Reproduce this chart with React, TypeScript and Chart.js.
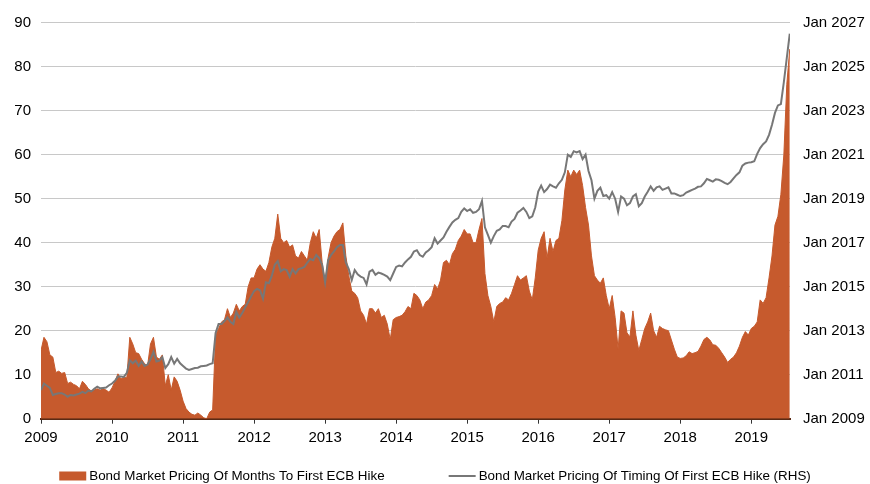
import React, { useEffect, useRef } from "react";
import { Chart, registerables } from "chart.js";

Chart.register(...registerables);

// Semi-monthly observations starting Jan 2009
const START_YEAR = 2009;
const OBS_PER_YEAR = 24;

const SERIES_AREA_LABEL = "Bond Market Pricing Of Months To First ECB Hike";
const SERIES_LINE_LABEL = "Bond Market Pricing Of Timing Of First ECB Hike (RHS)";

// Months to first ECB hike (LHS)
const monthsToHike: number[] = [
  15.5, 18.5, 17.5, 14.5, 14, 10.5, 10.8, 10.3, 10.5, 8, 8.3, 7.8, 7.5, 6.8, 8.5, 7.8, 6.8, 6.3, 6.5, 6.8, 6.5, 6.8, 6.5, 6.0,
  7, 8.5, 10.2, 9, 9.5, 9.3, 18.5, 17, 15, 14.8, 13.5, 12.5, 12, 17, 18.5, 14, 13.5, 14.5, 7.5, 10, 6.5, 9.5, 8.5, 6.5,
  4, 2.3, 1.5, 1, 0.8, 1.3, 0.8, 0.2, 0, 1.5, 2, 19, 20.5, 22, 22.5, 25, 23, 24, 26, 24.5, 25.5, 26, 30, 32,
  32, 34, 35, 34, 33.5, 35.5, 39, 41, 46.5, 41, 40, 40.5, 39, 39.5, 37, 36.5, 38, 37, 36, 40, 42.5, 41, 43, 35.5,
  30.8, 36.5, 40, 41.5, 42.5, 43, 44.5, 37, 32.5, 29, 28.5, 27.5, 24.5, 23.5, 21.5, 25, 25, 24, 25, 23, 23.5, 21.5, 18, 22.5,
  23, 23.2, 23.5, 24.3, 25.5, 25, 28.5, 28, 27, 25, 26.5, 27, 28, 30.5, 29.5, 31.5, 35.5, 36, 35, 37.5, 38.5, 40.5, 41.5, 43,
  42, 42, 40, 40, 43, 45.5, 33, 28, 25.5, 22, 25.5, 26.2, 26.5, 27.5, 27, 28.5, 30.5, 32.5, 31.5, 32, 32.5, 29, 27, 32,
  38.3, 41, 42.5, 36.5, 41, 38, 40.5, 41, 45, 52, 56.5, 55, 56.5, 55.5, 56.5, 53, 48, 44, 37, 32.5, 31.5, 30.8, 32, 28,
  25, 28, 23, 15.8, 24.5, 24, 19.5, 18.6, 24.5, 19, 15.5, 18, 20.5, 22, 24, 20, 18.5, 21, 20.5, 20.2, 20, 17.9, 15.8, 14,
  13.7, 13.8, 14.3, 15.2, 14.8, 15, 15.3, 16.5, 18, 18.5, 17.9, 16.8, 16.7, 16, 15, 14, 12.8, 13.5, 14, 15, 16.5, 18.5, 19.8, 19,
  20.5, 21, 22, 27, 26.2, 27.5, 32, 37, 44, 46, 51, 60, 76, 84,
];

// Priced timing of first ECB hike, as decimal year (RHS)
const hikeTiming: number[] = [
  2010.30, 2010.60, 2010.50, 2010.40, 2010.08, 2010.12, 2010.16, 2010.16, 2010.10, 2010.00, 2010.08, 2010.06,
  2010.10, 2010.14, 2010.22, 2010.16, 2010.28, 2010.24, 2010.36, 2010.46, 2010.38, 2010.40, 2010.42, 2010.52,
  2010.60, 2010.72, 2010.92, 2010.92, 2010.90, 2011.08, 2011.66, 2011.52, 2011.64, 2011.40, 2011.60, 2011.40,
  2011.46, 2011.70, 2012.04, 2011.60, 2011.64, 2011.80, 2011.30, 2011.48, 2011.80, 2011.50, 2011.72, 2011.52,
  2011.40, 2011.28, 2011.22, 2011.26, 2011.30, 2011.32, 2011.38, 2011.40, 2011.42, 2011.48, 2011.52, 2012.90,
  2013.30, 2013.30, 2013.44, 2013.60, 2013.40, 2013.30, 2013.86, 2013.60, 2013.80, 2014.06, 2014.30, 2014.56,
  2014.80, 2014.90, 2014.84, 2014.46, 2015.20, 2015.16, 2015.50, 2016.00, 2016.16, 2015.70, 2015.80, 2015.76,
  2015.46, 2015.80, 2015.60, 2015.80, 2015.84, 2015.90, 2016.10, 2016.26, 2016.20, 2016.44, 2016.30, 2016.00,
  2015.20, 2016.20, 2016.44, 2016.60, 2016.80, 2016.90, 2016.90, 2016.10, 2015.80, 2015.30, 2015.76, 2015.56,
  2015.46, 2015.40, 2015.10, 2015.68, 2015.76, 2015.54, 2015.64, 2015.60, 2015.54, 2015.46, 2015.30, 2015.60,
  2015.90, 2015.96, 2015.92, 2016.10, 2016.24, 2016.36, 2016.60, 2016.66, 2016.44, 2016.36, 2016.56, 2016.66,
  2016.80, 2017.20, 2016.96, 2017.10, 2017.24, 2017.50, 2017.72, 2017.92, 2018.04, 2018.12, 2018.40, 2018.56,
  2018.44, 2018.52, 2018.36, 2018.40, 2018.52, 2018.90, 2017.70, 2017.36, 2017.00, 2017.30, 2017.54, 2017.60,
  2017.76, 2017.76, 2017.70, 2017.96, 2018.08, 2018.36, 2018.46, 2018.58, 2018.40, 2018.12, 2018.20, 2018.60,
  2019.32, 2019.60, 2019.30, 2019.44, 2019.64, 2019.56, 2019.50, 2019.70, 2019.86, 2020.20, 2021.00, 2020.90,
  2021.16, 2021.10, 2021.16, 2020.80, 2021.00, 2020.26, 2019.84, 2019.00, 2019.36, 2019.50, 2019.12, 2019.16,
  2019.00, 2019.30, 2019.00, 2018.40, 2019.10, 2019.00, 2018.70, 2018.80, 2019.10, 2019.20, 2018.66, 2018.80,
  2019.10, 2019.32, 2019.56, 2019.36, 2019.52, 2019.56, 2019.40, 2019.46, 2019.52, 2019.24, 2019.24, 2019.18,
  2019.12, 2019.16, 2019.28, 2019.34, 2019.40, 2019.46, 2019.54, 2019.56, 2019.70, 2019.90, 2019.84, 2019.78,
  2019.88, 2019.86, 2019.80, 2019.72, 2019.66, 2019.76, 2019.92, 2020.08, 2020.20, 2020.50, 2020.60, 2020.64,
  2020.66, 2020.70, 2021.04, 2021.30, 2021.48, 2021.60, 2021.90, 2022.36, 2022.90, 2023.24, 2023.30, 2024.30,
  2025.40, 2026.50,
];

const X_MIN = 2009;
const X_MAX = 2019.545;
const LEFT_MIN = 0;
const LEFT_MAX = 90;
const LEFT_STEP = 10;
const RIGHT_MIN = 2009;
const RIGHT_MAX = 2027;
const RIGHT_STEP = 2;

const AREA_COLOR = "#C65A2D";
const LINE_COLOR = "#777777";
const FONT = '"Liberation Sans", Arial, sans-serif';

const legendPlugin = {
  id: "customBottomLegend",
  afterDraw(chart: any) {
    const ctx = chart.ctx as CanvasRenderingContext2D;
    ctx.save();
    ctx.font = `13.4px ${FONT}`;
    ctx.textBaseline = "middle";
    const symW = 27;
    const gap = 3;
    const between = 64;
    const items = chart.data.datasets.map((ds: any) => ({
      label: ds.label as string,
      color: ds.borderColor as string,
      kind: ds.fill ? "box" : "line",
      w: ctx.measureText(ds.label).width,
    }));
    const total =
      items.reduce((s: number, it: any) => s + symW + gap + it.w, 0) + between * (items.length - 1);
    let x = (chart.width - total) / 2;
    const y = chart.height - 8;
    items.forEach((it: any) => {
      if (it.kind === "box") {
        ctx.fillStyle = it.color;
        ctx.fillRect(x, y - 4.5, symW, 9);
      } else {
        ctx.strokeStyle = it.color;
        ctx.lineWidth = 2;
        ctx.beginPath();
        ctx.moveTo(x, y);
        ctx.lineTo(x + symW, y);
        ctx.stroke();
      }
      ctx.fillStyle = "#000";
      ctx.fillText(it.label, x + symW + gap, y);
      x += symW + gap + it.w + between;
    });
    ctx.restore();
  },
};

export default function App() {
  const canvasRef = useRef<HTMLCanvasElement | null>(null);

  useEffect(() => {
    if (!canvasRef.current) return;
    const dates = monthsToHike.map((_, i) => START_YEAR + i / OBS_PER_YEAR);
    const areaData = monthsToHike.map((v, i) => ({ x: dates[i], y: v }));
    const lineData = hikeTiming.map((v, i) => ({ x: dates[i], y: v }));

    Chart.defaults.font.family = FONT;
    Chart.defaults.font.size = 15;
    Chart.defaults.color = "#000";

    const chart = new Chart(canvasRef.current, {
      type: "line",
      data: {
        datasets: [
          {
            label: SERIES_AREA_LABEL,
            data: areaData,
            xAxisID: "x",
            yAxisID: "y",
            borderColor: AREA_COLOR,
            backgroundColor: AREA_COLOR,
            borderWidth: 1,
            pointRadius: 0,
            fill: "origin",
            tension: 0,
            order: 2,
          },
          {
            label: SERIES_LINE_LABEL,
            data: lineData,
            xAxisID: "x",
            yAxisID: "y2",
            borderColor: LINE_COLOR,
            backgroundColor: LINE_COLOR,
            borderWidth: 2,
            pointRadius: 0,
            fill: false,
            tension: 0,
            order: 1,
          },
        ],
      },
      options: {
        animation: false,
        responsive: false,
        layout: { padding: { top: 22.7, bottom: 35.3, left: 0, right: 0 } },
        plugins: {
          legend: { display: false },
          tooltip: { enabled: false },
        },
        scales: {
          x: {
            type: "linear",
            position: "bottom",
            min: X_MIN,
            max: X_MAX,
            afterFit: (s: any) => {
              s.height = 30;
            },
            ticks: {
              stepSize: 1,
              includeBounds: false,
              padding: 5,
              maxRotation: 0,
              autoSkip: false,
              callback: (v: any) => String(v),
              font: { size: 15 },
              color: "#000",
            },
            grid: {
              display: true,
              drawOnChartArea: false,
              drawTicks: true,
              tickLength: 5,
              tickColor: "#333",
            },
            border: { display: true, color: "#5A2A14", width: 2 },
          },
          y: {
            type: "linear",
            position: "left",
            min: LEFT_MIN,
            max: LEFT_MAX,
            afterFit: (s: any) => {
              s.width = 41;
            },
            ticks: { stepSize: LEFT_STEP, padding: 10, font: { size: 15 }, color: "#000" },
            grid: { color: "#C8C8C8", lineWidth: 1, drawTicks: false },
            border: { display: false },
          },
          y2: {
            type: "linear",
            position: "right",
            min: RIGHT_MIN,
            max: RIGHT_MAX,
            afterFit: (s: any) => {
              s.width = 80;
            },
            ticks: {
              stepSize: RIGHT_STEP,
              padding: 13,
              font: { size: 15 },
              color: "#000",
              callback: (v: any) => "Jan " + v,
            },
            grid: { display: false, drawTicks: false },
            border: { display: false },
          },
        },
      },
      plugins: [legendPlugin],
    });
    return () => chart.destroy();
  }, []);

  return (
    <div style={{ position: "absolute", left: 0, top: 0, width: 870, height: 484, background: "#fff" }}>
      <canvas ref={canvasRef} width={870} height={484} style={{ display: "block" }} />
    </div>
  );
}
